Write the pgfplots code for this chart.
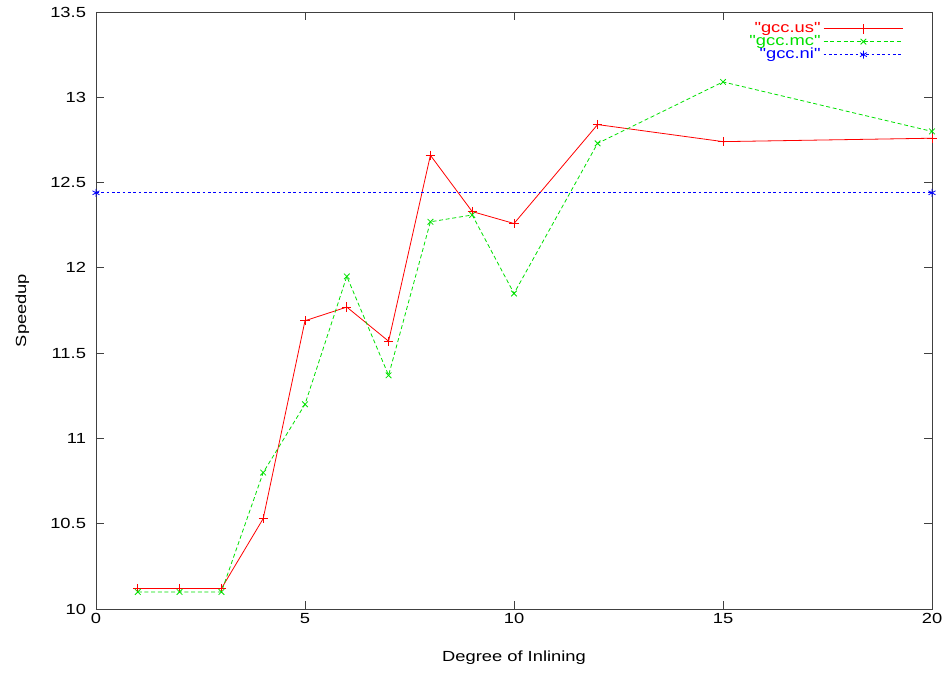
\documentclass[border=0pt]{standalone}
\usepackage{fontspec}
\setmainfont{Liberation Sans}
\usepackage{pgfplots}
\pgfplotsset{compat=1.18}
\definecolor{gred}{RGB}{255,0,0}
\definecolor{ggreen}{RGB}{0,225,0}
\definecolor{gblue}{RGB}{0,0,255}
\newcommand{\wide}[1]{\scalebox{1.25}[1]{#1}}
\begin{document}
\begin{tikzpicture}
\begin{axis}[
  scale only axis,
  width=627pt, height=447.75pt,
  xmin=0, xmax=20, ymin=10, ymax=13.5,
  xtick={0,5,10,15,20},
  ytick={10,10.5,11,11.5,12,12.5,13,13.5},
  xticklabel={\wide{\pgfmathprintnumber{\tick}}},
  yticklabel={\wide{\pgfmathprintnumber[fixed,precision=1]{\tick}}},
  /pgf/number format/assume math mode=true,
  tick align=inside,
  major tick length=6pt,
  axis line style={black!75, line width=0.6pt},
  tick style={black!75, line width=0.6pt},
  tick label style={font=\fontsize{11}{13}\selectfont},
  yticklabel style={xshift=-4pt},
  label style={font=\fontsize{11}{13}\selectfont},
  xlabel={\wide{Degree of Inlining}},
  ylabel={\wide{Speedup}},
  xlabel style={yshift=-13pt},
  ylabel style={yshift=9pt},
  legend style={draw=none, fill=none, at={(0.968,0.989)}, anchor=north east,
    font=\fontsize{11}{13}\selectfont, row sep=-3.5pt, inner sep=1pt},
  legend cell align=right,
  legend plot pos=right,
  legend image code/.code={\draw[mark repeat=2,mark phase=2,#1] plot coordinates {(0cm,0cm) (1.05cm,0cm) (2.1cm,0cm)};},
]
\addplot[color=gred, line width=0.6pt, mark=+, mark size=3.5pt, mark options={solid}] coordinates {
(1,10.12) (2,10.12) (3,10.12) (4,10.53) (5,11.69) (6,11.77) (7,11.57) (8,12.66) (9,12.33) (10,12.26) (12,12.84) (15,12.74) (20,12.76)};
\addlegendentry{\textcolor{gred}{\wide{\textquotedbl gcc.us\textquotedbl}}}
\addplot[color=ggreen, line width=0.6pt, dash pattern=on 3pt off 2pt, mark=x, mark size=3pt, mark options={solid}] coordinates {
(1,10.1) (2,10.1) (3,10.1) (4,10.8) (5,11.2) (6,11.95) (7,11.37) (8,12.27) (9,12.31) (10,11.85) (12,12.73) (15,13.09) (20,12.8)};
\addlegendentry{\textcolor{ggreen}{\wide{\textquotedbl gcc.mc\textquotedbl}}}
\addplot[color=gblue, line width=0.6pt, dash pattern=on 2pt off 2pt, mark=asterisk, mark size=3pt, mark options={solid}] coordinates {
(0,12.44) (20,12.44)};
\addlegendentry{\textcolor{gblue}{\wide{\textquotedbl gcc.ni\textquotedbl}}}
\end{axis}
\pgfresetboundingbox
\path[use as bounding box] ([xshift=-72pt,yshift=-47.25pt]current axis.south west) rectangle ([xshift=8.25pt,yshift=9pt]current axis.north east);
\end{tikzpicture}
\end{document}
